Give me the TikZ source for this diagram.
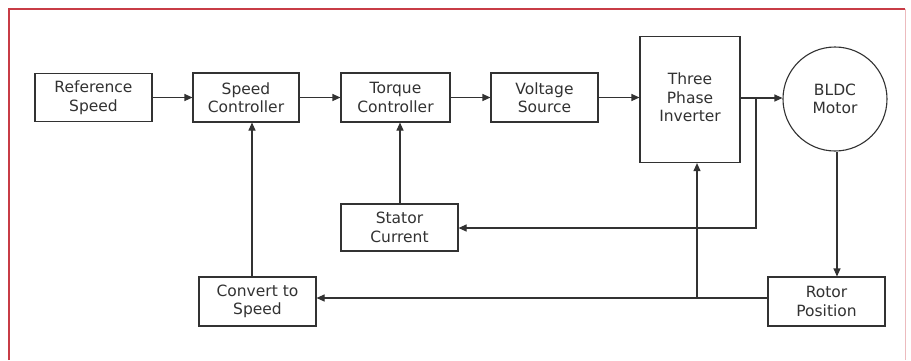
\documentclass[tikz,border=0pt]{standalone}
\usepackage{fontspec}
\setmainfont{DejaVu Sans}
\usetikzlibrary{arrows.meta}
\definecolor{frame}{RGB}{200,60,70}
\definecolor{ink}{RGB}{50,50,50}
\begin{document}
\begin{tikzpicture}[x=1pt,y=-1pt,
  blk/.style={draw=ink,line width=1.1pt,align=center,font=\fontsize{15.5}{18.5}\selectfont,text=ink,inner sep=0pt},
  conn/.style={draw=ink,line width=1.1pt},
  arr/.style={conn,-{Triangle[length=8pt,width=7pt]}}]
\useasboundingbox (0,0) rectangle (911,360);
\fill[white] (0,0) rectangle (911,360);
\draw[frame,line width=1.3pt] (9,360) -- (9,9) -- (905,9);
\draw[frame!35,line width=0.8pt] (905,9) -- (905,360);
% blocks
\node[blk,minimum width=117pt,minimum height=48pt] (ref) at (93.5,97.5) {Reference\\Speed};
\node[blk,minimum width=106pt,minimum height=49pt] (sc) at (246,97.5) {Speed\\Controller};
\node[blk,minimum width=109pt,minimum height=49pt] (tc) at (395.5,97.5) {Torque\\Controller};
\node[blk,minimum width=107pt,minimum height=49pt] (vs) at (544.5,97.5) {Voltage\\Source};
\node[blk,minimum width=100pt,minimum height=126pt,anchor=north] (inv) at (690,36) {\raisebox{5pt}{\begin{tabular}{@{}c@{}}Three\\Phase\\Inverter\end{tabular}}};
\node[blk,circle,minimum size=104pt] (mot) at (835,99) {BLDC\\Motor};
\node[blk,minimum width=117pt,minimum height=47pt] (st) at (399.5,227.5) {Stator\\Current};
\node[blk,minimum width=117pt,minimum height=49pt] (cs) at (257.5,301.5) {Convert to\\Speed};
\node[blk,minimum width=117pt,minimum height=49pt] (rp) at (826.5,301.5) {Rotor\\Position};
% forward path
\draw[arr] (ref.east) -- (sc.west);
\draw[arr] (sc.east) -- (tc.west);
\draw[arr] (tc.east) -- (vs.west);
\draw[arr] (vs.east) -- (inv.west |- vs.east);
\coordinate (j1) at (756,98);
\draw[arr] (inv.east |- j1) -- (mot.west |- j1);
% current feedback
\draw[arr] (j1) -- (756,228) -- (st.east |- 0,228);
\draw[arr] (st.north -| 400,0) -- (tc.south -| 400,0);
% rotor
\draw[arr] (mot.south -| 837,0) -- (rp.north -| 837,0);
\coordinate (j2) at (697,298);
\draw[arr] (rp.west |- j2) -- (cs.east |- j2);
\draw[arr] (j2) -- (inv.south -| j2);
\draw[arr] (cs.north -| 252,0) -- (sc.south -| 252,0);
\end{tikzpicture}
\end{document}
